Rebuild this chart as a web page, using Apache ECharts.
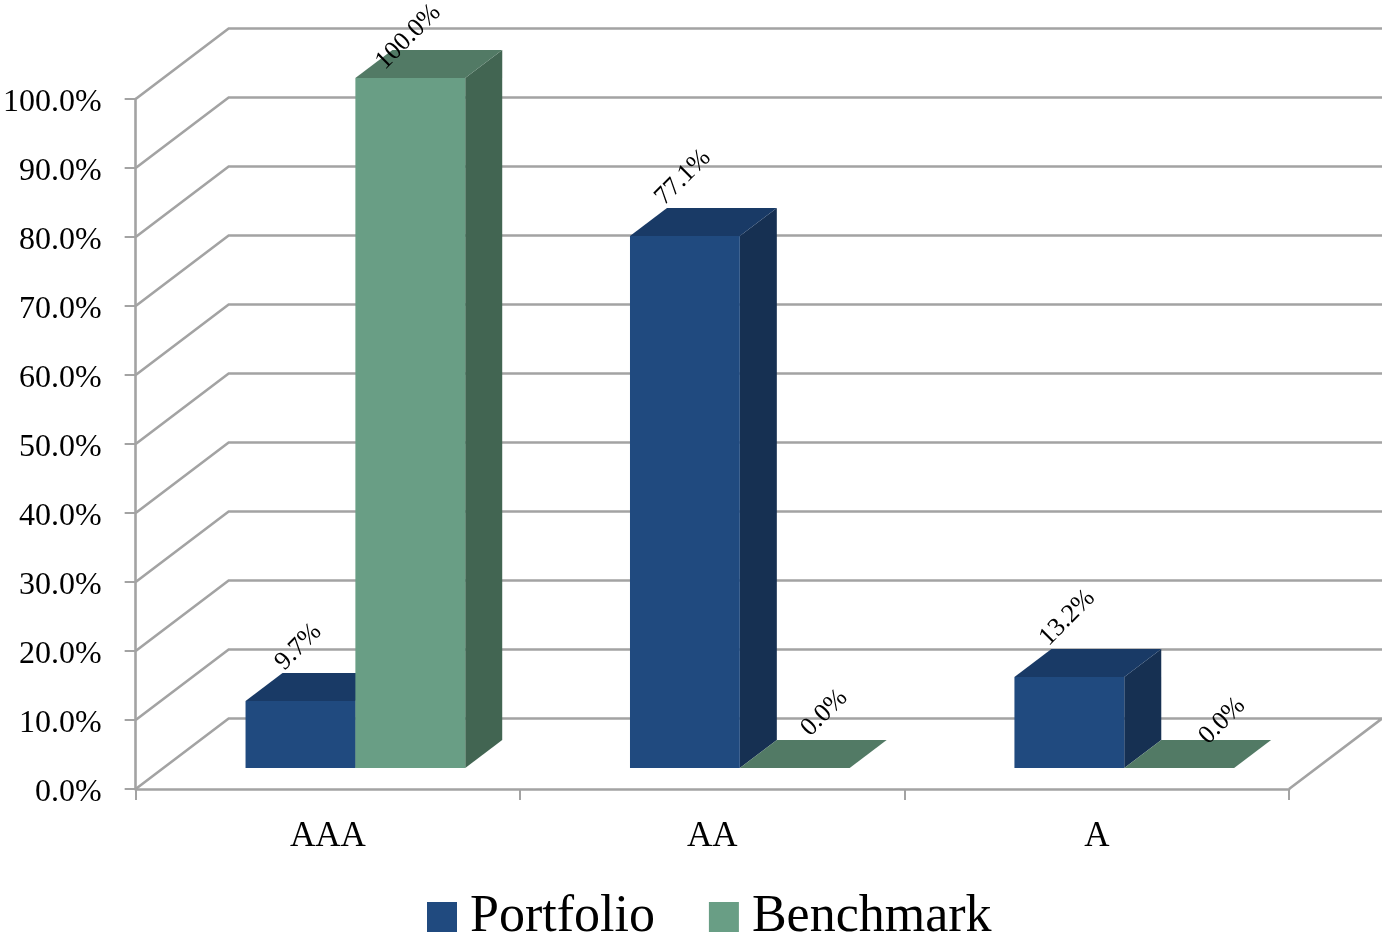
<!DOCTYPE html>
<html>
<head>
<meta charset="utf-8">
<style>html,body{margin:0;padding:0;background:#fff}#c{width:1382px;height:936px}</style>
<script src="https://cdn.jsdelivr.net/npm/echarts@6/dist/echarts.min.js"></script>
</head>
<body>
<div id="c"></div>
<script>
var categories = ['AAA', 'AA', 'A'];
var portfolio = [9.7, 77.1, 13.2];
var benchmark = [100.0, 0.0, 0.0];
var yTicks = [0, 10, 20, 30, 40, 50, 60, 70, 80, 90, 100];

var FONT = '"Liberation Serif", serif';
var GRID_COLOR = '#a3a3a3';
var WALL = [93, -70.5];
var BAR_SHIFT = [27.5, -21];
var BAR_DEPTH = [37, -28];
var BAR_RATIO = 2 / 7;
var portfolioStyle = {front: '#204a7f', side: '#163052', top: '#193a66'};
var benchmarkStyle = {front: '#699e85', side: '#426552', top: '#527a65'};
var portfolioNudge = [[-2, -54], [-2, -58.5], [-2, -59]];
var benchmarkNudge = [[-2, -41], [29.5, -55], [43, -47]];

function pct(v) { return v.toFixed(1) + '%'; }
function pairs(values) { return values.map(function (v, i) { return [i, v]; }); }

function renderWall(params, api) {
  var cs = params.coordSys;
  var v = api.value(0);
  var y = api.coord([0, v])[1];
  var x0 = cs.x, x1 = cs.x + cs.width;
  var pts = [[x0, y], [x0 + WALL[0], y + WALL[1]], [x1 + WALL[0], y + WALL[1]]];
  if (v === 0) pts.push([x1, y]);
  return {
    type: 'polyline',
    shape: {points: pts},
    style: {stroke: GRID_COLOR, lineWidth: 2.6, fill: null}
  };
}

function barRenderer(slot, colors, nudges) {
  return function (params, api) {
    var cat = api.value(0), val = api.value(1);
    var top = api.coord([cat, val]);
    var base = api.coord([cat, 0]);
    var band = api.size([1, 0])[0];
    var w = band * BAR_RATIO;
    var l = top[0] + BAR_SHIFT[0] + (slot - 1) * w;
    var r = l + w;
    var t = top[1] + BAR_SHIFT[1];
    var b = base[1] + BAR_SHIFT[1];
    var dx = BAR_DEPTH[0], dy = BAR_DEPTH[1];
    var n = nudges[cat];
    var children = [];
    if (val > 0) {
      children.push({type: 'polygon', shape: {points: [[r, t], [r + dx, t + dy], [r + dx, b + dy], [r, b]]}, style: {fill: colors.side}});
      children.push({type: 'rect', shape: {x: l, y: t, width: w, height: b - t}, style: {fill: colors.front}});
    }
    children.push({type: 'polygon', shape: {points: [[l, t], [l + dx, t + dy], [r + dx, t + dy], [r, t]]}, style: {fill: colors.top}});
    children.push({
      type: 'text', x: (l + r) / 2 + n[0], y: t + n[1], rotation: Math.PI / 4, z2: 50,
      style: {text: pct(val), font: '26px ' + FONT, fill: '#000', align: 'center', verticalAlign: 'middle'}
    });
    return {type: 'group', children: children};
  };
}

var chart = echarts.init(document.getElementById('c'), null, {renderer: 'canvas'});
chart.setOption({
  animation: false,
  backgroundColor: '#ffffff',
  grid: {left: 135, top: 99, width: 1154, height: 690, containLabel: false},
  legend: {
    left: 422, top: 886, itemWidth: 30, itemHeight: 30, itemGap: 54, icon: 'rect',
    data: ['Portfolio', 'Benchmark'],
    textStyle: {fontFamily: FONT, fontSize: 52, color: '#000', padding: [0, 0, 0, 8]}
  },
  xAxis: {
    type: 'category', data: categories,
    axisLine: {lineStyle: {color: GRID_COLOR, width: 2.6}},
    axisTick: {show: true, length: 11, alignWithLabel: false, lineStyle: {color: GRID_COLOR, width: 2}},
    axisLabel: {fontFamily: FONT, fontSize: 35, color: '#000', margin: 30},
    splitLine: {show: false}
  },
  yAxis: {
    type: 'value', min: 0, max: 100, interval: 10,
    axisLine: {show: true, lineStyle: {color: GRID_COLOR, width: 2.6}},
    axisTick: {show: true, length: 11, lineStyle: {color: GRID_COLOR, width: 2}},
    axisLabel: {fontFamily: FONT, fontSize: 32, color: '#000', margin: 34, formatter: function (v) { return pct(v); }, verticalAlign: 'top', lineHeight: 7},
    splitLine: {show: false}
  },
  series: [
    {name: 'wall', type: 'custom', silent: true, clip: false, renderItem: renderWall, data: yTicks.map(function (v) { return [v]; }), encode: {y: 0}, z: 1, legendHoverLink: false},
    {name: 'Portfolio', type: 'custom', clip: false, renderItem: barRenderer(0, portfolioStyle, portfolioNudge), data: pairs(portfolio), encode: {x: 0, y: 1}, itemStyle: {color: portfolioStyle.front}, z: 3},
    {name: 'Benchmark', type: 'custom', clip: false, renderItem: barRenderer(1, benchmarkStyle, benchmarkNudge), data: pairs(benchmark), encode: {x: 0, y: 1}, itemStyle: {color: benchmarkStyle.front}, z: 4}
  ]
});
</script>
</body>
</html>
